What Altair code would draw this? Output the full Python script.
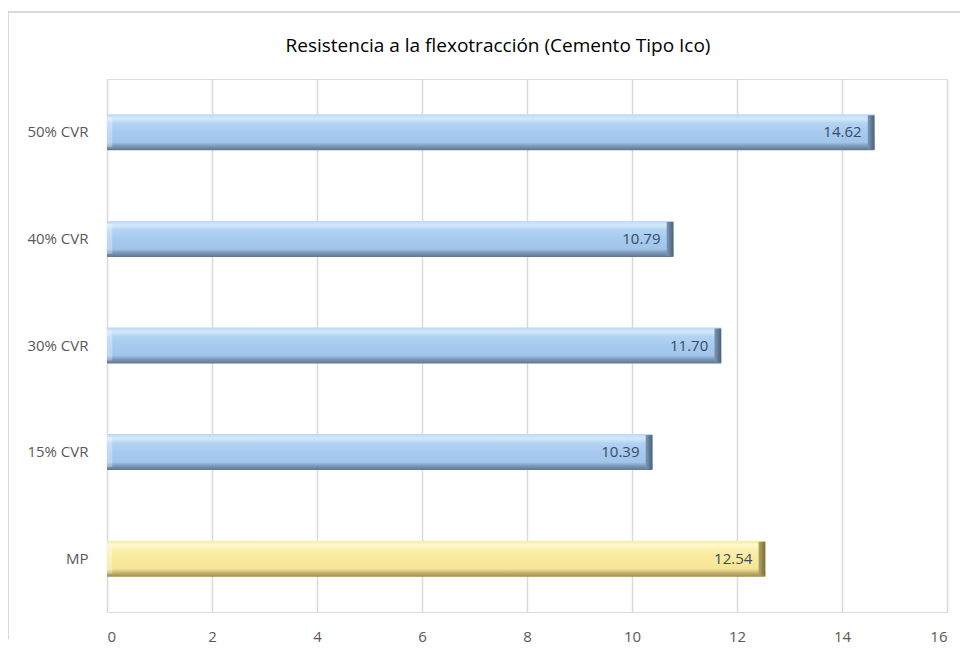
import altair as alt
import pandas as pd

categories = ["50% CVR", "40% CVR", "30% CVR", "15% CVR", "MP"]
values = [14.62, 10.79, 11.70, 10.39, 12.54]
groups = ["cvr", "cvr", "cvr", "cvr", "mp"]

df = pd.DataFrame({"cat": categories, "val": values, "grp": groups})

blue_grad = alt.Gradient(
    gradient="linear", x1=0, y1=0, x2=0, y2=1,
    stops=[
        alt.GradientStop(color="#B9D8F6", offset=0),
        alt.GradientStop(color="#D4EAFC", offset=0.12),
        alt.GradientStop(color="#B2D3F4", offset=0.25),
        alt.GradientStop(color="#A6CAEF", offset=0.5),
        alt.GradientStop(color="#A2C5EA", offset=0.78),
        alt.GradientStop(color="#7D99B7", offset=0.88),
        alt.GradientStop(color="#5C7792", offset=1),
    ],
)
yellow_grad = alt.Gradient(
    gradient="linear", x1=0, y1=0, x2=0, y2=1,
    stops=[
        alt.GradientStop(color="#F6EBA8", offset=0),
        alt.GradientStop(color="#FFF8CC", offset=0.12),
        alt.GradientStop(color="#FBF0AE", offset=0.25),
        alt.GradientStop(color="#F9EA9C", offset=0.5),
        alt.GradientStop(color="#F5E496", offset=0.78),
        alt.GradientStop(color="#C9B870", offset=0.88),
        alt.GradientStop(color="#9C8B4C", offset=1),
    ],
)
blue_end = alt.Gradient(
    gradient="linear", x1=0, y1=0, x2=1, y2=0,
    stops=[alt.GradientStop(color="#7E98B4", offset=0),
           alt.GradientStop(color="#4A607A", offset=1)],
)
yellow_end = alt.Gradient(
    gradient="linear", x1=0, y1=0, x2=1, y2=0,
    stops=[alt.GradientStop(color="#B5A565", offset=0),
           alt.GradientStop(color="#7A6C38", offset=1)],
)

y_enc = alt.Y("cat:N", sort=categories, title=None,
              scale=alt.Scale(paddingInner=0.66, paddingOuter=0.33),
              axis=alt.Axis(labelColor="#595959", labelFont="Open Sans", labelFontSize=15,
                            labelPadding=19, ticks=False, domain=False, grid=False))
x_enc = alt.X("val:Q", title=None,
              scale=alt.Scale(domain=[0, 16], nice=False),
              axis=alt.Axis(values=list(range(0, 17, 2)), labelColor="#595959",
                            labelFont="Open Sans", labelFontSize=15, labelPadding=17,
                            ticks=False, domain=False, grid=True, gridColor="#D9D9D9",
                            gridWidth=1.5))

base = alt.Chart(df)

bars_blue = base.transform_filter(alt.datum.grp == "cvr").mark_bar(
    size=36, color=blue_grad).encode(y=y_enc, x=x_enc)
bars_yellow = base.transform_filter(alt.datum.grp == "mp").mark_bar(
    size=36, color=yellow_grad).encode(y=y_enc, x=x_enc)

end_blue = base.transform_filter(alt.datum.grp == "cvr").transform_calculate(
    x0="datum.val - 0.13").mark_bar(size=34, color=blue_end).encode(
    y=y_enc, x=alt.X("x0:Q"), x2="val:Q")
end_yellow = base.transform_filter(alt.datum.grp == "mp").transform_calculate(
    x0="datum.val - 0.13").mark_bar(size=34, color=yellow_end).encode(
    y=y_enc, x=alt.X("x0:Q"), x2="val:Q")
start_bev = base.transform_calculate(x1="0.1").mark_bar(
    size=30, color="#FFFFFF", opacity=0.3).encode(y=y_enc, x=alt.X("x1:Q"), x2=alt.datum(0))

labels = base.mark_text(align="right", dx=-13, font="Open Sans", fontSize=15,
                        color="#3B4B5F").encode(
    y=y_enc, x="val:Q", text=alt.Text("val:Q", format=".2f"))

border_left = alt.Chart(df).mark_rule(color="#D9D9D9", strokeWidth=1.5).encode(
    x=alt.value(-99), y=alt.value(-67), y2=alt.value(560))
border_top = alt.Chart(df).mark_rule(color="#D9D9D9", strokeWidth=1.5).encode(
    x=alt.value(-99), x2=alt.value(870), y=alt.value(-67))

chart = alt.layer(border_left, border_top, bars_blue, bars_yellow, end_blue, end_yellow,
                  start_bev, labels).properties(
    width=840, height=533,
    title=alt.TitleParams("Resistencia a la flexotracción (Cemento Tipo Ico)",
                          font="Open Sans", fontSize=19, fontWeight="normal",
                          color="#000000", offset=0, dy=45, dx=-29),
    autosize=alt.AutoSizeParams(type="none"),
    padding={"left": 99, "top": 71, "right": 13, "bottom": 40},
).configure_view(strokeWidth=0, stroke="transparent").configure(background="white")

chart.save("out.html", embed_options={"renderer": "svg", "actions": False})
